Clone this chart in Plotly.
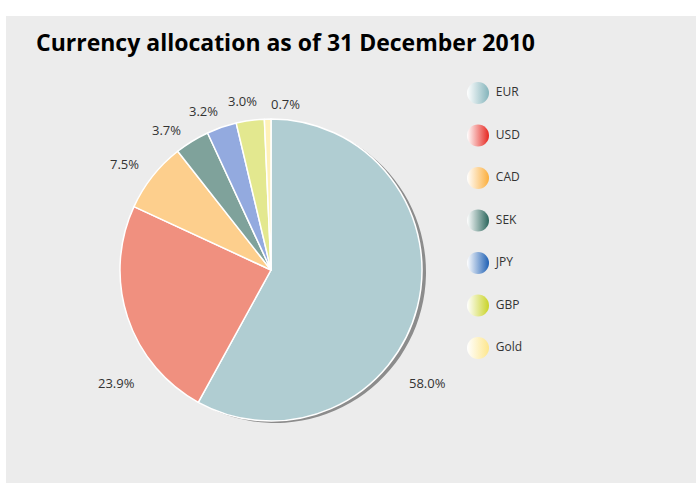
import plotly.graph_objects as go

categories = ["EUR", "USD", "CAD", "SEK", "JPY", "GBP", "Gold"]
shares = [58.0, 23.9, 7.5, 3.7, 3.2, 3.0, 0.7]
full_colors = ["#84b4bb", "#e6261f", "#fbae3c", "#2b665c", "#1f60b4", "#c9d327", "#fde68c"]
slice_colors = ["#b0cdd2", "#f0907f", "#fdcf8d", "#7fa29b", "#93aadf", "#e3e88f", "#fff1b8"]
title_text = "Currency allocation as of 31 December 2010"

# label placement (pixels from top-left) for each slice's percentage
label_px = [(427, 383), (116, 383), (124, 164), (166, 130), (204, 111), (242, 101), (285, 104)]

W, H = 696, 485

fig = go.Figure()

# shadow pie
fig.add_trace(go.Pie(
    values=shares, labels=categories, sort=False, direction="clockwise", rotation=0,
    marker=dict(colors=["#8c8c8c"] * len(shares), line=dict(width=0)),
    textinfo="none", hoverinfo="skip", showlegend=False,
    domain=dict(x=[124 / W, 426 / W], y=[1 - 423 / H, 1 - 121 / H]),
))

# main pie
fig.add_trace(go.Pie(
    values=shares, labels=categories, sort=False, direction="clockwise", rotation=0,
    marker=dict(colors=slice_colors, line=dict(color="white", width=1.5)),
    textinfo="none",
    hoverinfo="label+value", showlegend=False,
    domain=dict(x=[120 / W, 422 / W], y=[1 - 421 / H, 1 - 119 / H]),
))

# legend drawn as markers
fig.add_trace(go.Scatter(
    x=[8] * len(categories), y=list(range(len(categories))),
    mode="markers+text",
    marker=dict(size=22, symbol="circle", color="white",
                gradient=dict(type="horizontal", color=full_colors), line=dict(width=0)),
    text=[" " + c for c in categories], textposition="middle right",
    textfont=dict(family="Open Sans", size=12, color="#333333"),
    hoverinfo="skip", showlegend=False, cliponaxis=False,
))

annotations = [dict(text="<b>" + title_text + "</b>", xref="paper", yref="paper",
                    x=34 / W, y=1 - 42 / H, xanchor="left", yanchor="middle", showarrow=False,
                    font=dict(family="Open Sans", size=23, color="#000000"))]
for v, (px, py) in zip(shares, label_px):
    annotations.append(dict(text=f"{v:.1f}%", xref="paper", yref="paper",
                            x=px / W, y=1 - py / H, xanchor="center", yanchor="middle",
                            showarrow=False,
                            font=dict(family="Open Sans", size=13, color="#333333")))

fig.update_layout(
    width=W, height=H,
    margin=dict(l=0, r=0, t=0, b=0),
    paper_bgcolor="white", plot_bgcolor="rgba(0,0,0,0)",
    xaxis=dict(domain=[470 / W, 560 / W], range=[0, 90], visible=False, fixedrange=True),
    yaxis=dict(domain=[1 - 369.25 / H, 1 - 71.75 / H], range=[6.5, -0.5], visible=False, fixedrange=True),
    shapes=[dict(type="rect", xref="paper", yref="paper", x0=6 / W, x1=1, y0=1 - 483 / H, y1=1 - 16 / H,
                 fillcolor="#ececec", line=dict(width=0), layer="below")],
    annotations=annotations,
    showlegend=False,
)

fig.write_html("out.html", config={"displayModeBar": False},
               post_script="document.body.style.margin='0';document.body.style.overflow='hidden';")
